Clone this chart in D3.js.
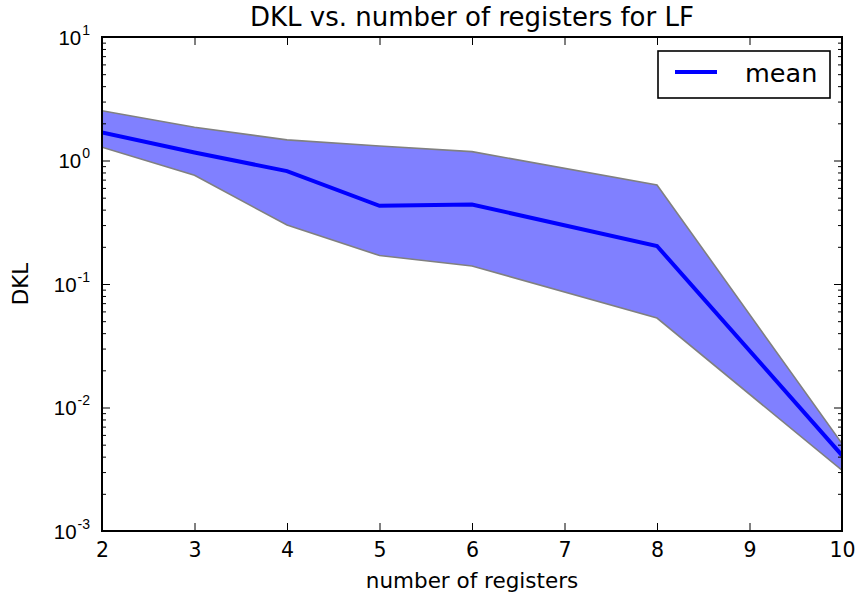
<!DOCTYPE html>
<html>
<head>
<meta charset="utf-8">
<script src="https://cdn.jsdelivr.net/npm/d3@7/dist/d3.min.js"></script>
<style>
  html, body { margin: 0; padding: 0; background: #fff; }
  svg { display: block; font-family: "DejaVu Sans", sans-serif; }
</style>
</head>
<body>
<svg id="chart" width="858" height="596"></svg>
<script>
// Number of registers sampled
const registers = [2, 3, 4, 5, 6, 8, 10];
// DKL statistics per register count
const dklMean  = [1.69, 1.16, 0.82, 0.43, 0.44, 0.203, 0.0041];
const dklUpper = [2.53, 1.86, 1.47, 1.31, 1.18, 0.634, 0.0051];
const dklLower = [1.28, 0.76, 0.30, 0.17, 0.14, 0.053, 0.0031];
// Axis ticks
const xTicks = [2, 3, 4, 5, 6, 7, 8, 9, 10];
const yDomain = [1e-3, 1e1];

const titleText = "DKL vs. number of registers for LF";
const xLabelText = "number of registers";
const yLabelText = "DKL";
const legendText = "mean";

const rows = registers.map((r, i) => ({ r, mean: dklMean[i], hi: dklUpper[i], lo: dklLower[i] }));

const svg = d3.select("#chart");
const L = 102, R = 842, T = 37, B = 531;

const x = d3.scaleLinear().domain([2, 10]).range([L, R]);
const y = d3.scaleLog().domain(yDomain).range([B, T]);

// plot clip
svg.append("defs").append("clipPath").attr("id", "plotClip")
  .append("rect").attr("x", L).attr("y", T).attr("width", R - L).attr("height", B - T);

const plot = svg.append("g").attr("clip-path", "url(#plotClip)");

// spread band
const band = d3.area()
  .x(d => x(d.r))
  .y0(d => y(d.lo))
  .y1(d => y(d.hi));
plot.append("path")
  .datum(rows)
  .attr("d", band)
  .attr("fill", "#8080ff")
  .attr("stroke", "#808080")
  .attr("stroke-width", 1.6)
  .attr("stroke-linejoin", "miter");

// mean line
const meanLine = d3.line().x(d => x(d.r)).y(d => y(d.mean));
plot.append("path")
  .datum(rows)
  .attr("d", meanLine)
  .attr("fill", "none")
  .attr("stroke", "#0000ff")
  .attr("stroke-width", 4)
  .attr("stroke-linejoin", "miter");

// log ticks: majors at powers of ten, minors in between
const yAll = y.ticks();
const isMajor = v => Math.abs(Math.log10(v) - Math.round(Math.log10(v))) < 1e-9;
const yMajor = yAll.filter(isMajor);
const yMinor = yAll.filter(v => !isMajor(v));

function styleAxis(g) {
  g.select(".domain").remove();
  g.selectAll(".tick line").attr("stroke", "#000").attr("stroke-width", 1);
}

// bottom & top x axes (ticks pointing inward)
const xBottom = svg.append("g").attr("transform", `translate(0,${B})`)
  .call(d3.axisBottom(x).tickValues(xTicks).tickSizeInner(-8).tickSizeOuter(0).tickFormat(d3.format("d")));
styleAxis(xBottom);
xBottom.selectAll(".tick text")
  .attr("y", 26).attr("dy", null)
  .attr("font-size", 20.5).attr("font-family", "DejaVu Sans").attr("fill", "#000");

const xTop = svg.append("g").attr("transform", `translate(0,${T})`)
  .call(d3.axisTop(x).tickValues(xTicks).tickSizeInner(-8).tickSizeOuter(0).tickFormat(""));
styleAxis(xTop);

// left & right y axes, majors then minors
function yAxisPair(axisFn, xpos) {
  const gMaj = svg.append("g").attr("transform", `translate(${xpos},0)`)
    .call(axisFn(y).tickValues(yMajor).tickSizeInner(-8).tickSizeOuter(0).tickFormat(""));
  styleAxis(gMaj);
  const gMin = svg.append("g").attr("transform", `translate(${xpos},0)`)
    .call(axisFn(y).tickValues(yMinor).tickSizeInner(-4).tickSizeOuter(0).tickFormat(""));
  styleAxis(gMin);
  return gMaj;
}
const yLeft = yAxisPair(d3.axisLeft, L);
yAxisPair(d3.axisRight, R);

// power-of-ten labels on the left
yLeft.selectAll(".tick").each(function(v) {
  const e = Math.round(Math.log10(v));
  const t = d3.select(this).append("text")
    .attr("x", -12).attr("y", 7)
    .attr("text-anchor", "end")
    .attr("font-size", 20.5)
    .attr("fill", "#000");
  t.append("tspan").text("10");
  t.append("tspan").attr("dy", -10).attr("dx", 1).attr("font-size", 14).text(String(e));
});

// frame
svg.append("rect")
  .attr("x", L).attr("y", T).attr("width", R - L).attr("height", B - T)
  .attr("fill", "none").attr("stroke", "#000").attr("stroke-width", 2);

// title and axis labels
svg.append("text")
  .attr("x", (L + R) / 2).attr("y", 26)
  .attr("text-anchor", "middle").attr("font-size", 26).attr("fill", "#000")
  .text(titleText);
svg.append("text")
  .attr("x", (L + R) / 2).attr("y", 588)
  .attr("text-anchor", "middle").attr("font-size", 21.5).attr("fill", "#000")
  .text(xLabelText);
svg.append("text")
  .attr("transform", `translate(28,${(T + B) / 2}) rotate(-90)`)
  .attr("text-anchor", "middle").attr("font-size", 21.5).attr("fill", "#000")
  .text(yLabelText);

// legend
const lg = svg.append("g");
lg.append("rect")
  .attr("x", 658).attr("y", 51).attr("width", 172).attr("height", 47)
  .attr("fill", "#fff").attr("stroke", "#000").attr("stroke-width", 1.6);
lg.append("line")
  .attr("x1", 675).attr("x2", 717).attr("y1", 72).attr("y2", 72)
  .attr("stroke", "#0000ff").attr("stroke-width", 4);
lg.append("text")
  .attr("x", 745).attr("y", 82)
  .attr("font-size", 25.5).attr("fill", "#000")
  .text(legendText);
</script>
</body>
</html>
